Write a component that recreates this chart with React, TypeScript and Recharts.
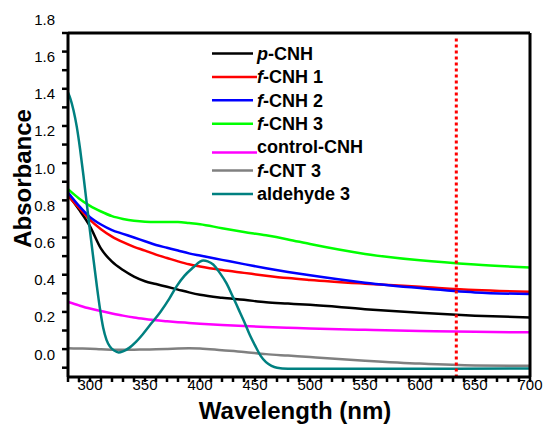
import React from 'react';
import { LineChart, Line, XAxis, YAxis, ReferenceLine, Legend, Label } from 'recharts';

// ---- data ----
const wavelengths = [280, 290, 300, 310, 320, 330, 340, 350, 360, 370, 380, 390, 400, 420, 440, 460, 480, 500, 550, 600, 650, 700];
const pCNH = [0.83, 0.75, 0.66, 0.54, 0.47, 0.425, 0.39, 0.365, 0.35, 0.335, 0.32, 0.305, 0.292, 0.276, 0.265, 0.252, 0.245, 0.238, 0.215, 0.195, 0.18, 0.17];
const fCNH1 = [0.824, 0.76, 0.695, 0.645, 0.605, 0.575, 0.55, 0.53, 0.508, 0.49, 0.472, 0.456, 0.444, 0.425, 0.41, 0.395, 0.382, 0.372, 0.352, 0.335, 0.318, 0.308];
const fCNH2 = [0.842, 0.77, 0.71, 0.67, 0.64, 0.62, 0.6, 0.58, 0.56, 0.545, 0.53, 0.515, 0.503, 0.48, 0.457, 0.435, 0.415, 0.397, 0.357, 0.328, 0.305, 0.296];
const fCNH3 = [0.86, 0.81, 0.77, 0.74, 0.715, 0.7, 0.69, 0.685, 0.684, 0.684, 0.683, 0.678, 0.672, 0.65, 0.63, 0.612, 0.59, 0.565, 0.512, 0.478, 0.455, 0.439];
const controlCNH = [0.254, 0.235, 0.218, 0.205, 0.192, 0.18, 0.17, 0.162, 0.155, 0.15, 0.145, 0.141, 0.137, 0.13, 0.124, 0.119, 0.115, 0.111, 0.104, 0.098, 0.093, 0.09];
const fCNT3 = [0.004, 0.003, 0.002, -0.001, -0.003, -0.004, -0.003, -0.002, -0.001, 0.001, 0.003, 0.004, 0.003, -0.006, -0.015, -0.027, -0.035, -0.043, -0.062, -0.078, -0.088, -0.09];
const aldehydeWavelengths = [280, 282, 285, 288, 291, 294, 297, 300, 303, 306, 309, 312, 315, 318, 322, 326, 330, 336, 342, 348, 356, 364, 372, 379, 386, 394, 400, 403, 407, 412, 418, 424, 430, 435, 440, 445, 450, 455, 460, 465, 470, 480, 500, 600, 700];
const aldehyde3 = [1.38, 1.35, 1.285, 1.195, 1.075, 0.935, 0.785, 0.635, 0.49, 0.35, 0.22, 0.115, 0.05, 0.015, -0.008, -0.018, -0.012, 0.008, 0.04, 0.08, 0.14, 0.2, 0.27, 0.34, 0.395, 0.44, 0.47, 0.476, 0.472, 0.455, 0.41, 0.355, 0.28, 0.215, 0.15, 0.08, 0.02, -0.035, -0.07, -0.09, -0.1, -0.105, -0.106, -0.106, -0.104];

const seriesNames = ['p-CNH', 'f-CNH 1', 'f-CNH 2', 'f-CNH 3', 'control-CNH', 'f-CNT 3', 'aldehyde 3'];
const italicPrefixes = ['p', 'f', 'f', 'f', '', 'f', ''];
const seriesColors = ['#000000', '#ff0000', '#0000ff', '#00ff00', '#ff00ff', '#808080', '#008080'];

const laserLine = 633;

const xLabelTicks = [300, 350, 400, 450, 500, 550, 600, 650, 700];
const xAllTicks = Array.from({ length: 43 }, (_, i) => 280 + i * 10);
const yLabelTicks = ['0.0', '0.2', '0.4', '0.6', '0.8', '1.0', '1.2', '1.4', '1.6', '1.8'];
const yAllTicks = Array.from({ length: 20 }, (_, i) => (i - 1) / 10);

const toPoints = (xs: number[], ys: number[]) => xs.map((x, i) => ({ x, y: ys[i] }));
const seriesData = [
  toPoints(wavelengths, pCNH),
  toPoints(wavelengths, fCNH1),
  toPoints(wavelengths, fCNH2),
  toPoints(wavelengths, fCNH3),
  toPoints(wavelengths, controlCNH),
  toPoints(wavelengths, fCNT3),
  toPoints(aldehydeWavelengths, aldehyde3),
];

const FONT = '"Liberation Sans", Arial, sans-serif';

const YTick = (props: any) => {
  const { x, y, payload } = props;
  const v = payload.value as number;
  const label = v.toFixed(1);
  const hasLabel = yLabelTicks.includes(label);
  return (
    <g>
      {v <= 1.7001 && <line x1={x - 6} x2={x} y1={y} y2={y} stroke="#000" strokeWidth={2.5} />}
      {hasLabel && (
        <text x={x - 13} y={y + 10.5} textAnchor="end" fontSize={15} fontFamily={FONT} fill="#000">
          {label}
        </text>
      )}
    </g>
  );
};

const XTick = (props: any) => {
  const { x, y, payload } = props;
  const v = payload.value as number;
  const hasLabel = xLabelTicks.includes(v);
  return (
    <g>
      <line x1={x} x2={x} y1={y} y2={y + 5} stroke="#000" strokeWidth={2.5} />
      {hasLabel && (
        <text x={x} y={y + 13} textAnchor="middle" fontSize={15} fontFamily={FONT} fill="#000">
          {v}
        </text>
      )}
    </g>
  );
};

const XTitle = () => (
  <text x={295} y={419} textAnchor="middle" fontSize={24} fontWeight="bold" fontFamily={FONT} fill="#000">
    Wavelength (nm)
  </text>
);

const YTitle = () => (
  <text x={31} y={178.5} transform="rotate(-90, 31, 178.5)" textAnchor="middle" fontSize={24} fontWeight="bold" fontFamily={FONT} fill="#000">
    Absorbance
  </text>
);

const renderLegend = (props: any) => {
  const payload = props.payload || [];
  const colorOf = (name: string) => {
    const e = payload.find((p: any) => p.value === name);
    return e ? e.color : '#000';
  };
  return (
    <svg width={545} height={431} style={{ position: 'absolute', left: 0, top: 0 }}>
      {seriesNames.map((name, idx) => {
        const rowY = 53.5 + idx * 23.4;
        const prefix = italicPrefixes[idx] || '';
        const rest = name.slice(prefix.length);
        const longLine = idx === 1 || idx === 4;
        const lineY = idx === 4 ? rowY + 5.5 : rowY;
        return (
          <g key={name}>
            <line x1={212} x2={longLine ? 257 : 253} y1={lineY} y2={lineY} stroke={colorOf(name)} strokeWidth={2.5} />
            <text x={257} y={rowY + 6.3} fontSize={18} fontWeight="bold" fontFamily={FONT} fill="#000">
              {prefix && <tspan fontStyle="italic">{prefix}</tspan>}
              <tspan>{rest}</tspan>
            </text>
          </g>
        );
      })}
    </svg>
  );
};

export default function App() {
  return (
    <div style={{ position: 'absolute', left: 0, top: 0, width: 545, height: 431, background: '#fff' }}>
      <LineChart width={545} height={431} margin={{ top: 33, right: 15, bottom: 0, left: 0 }}>
        <XAxis
          dataKey="x"
          type="number"
          domain={[280, 700]}
          ticks={xAllTicks}
          interval={0}
          allowDataOverflow
          height={54}
          tickLine={false}
          tickSize={0}
          tickMargin={0}
          tick={<XTick />}
          axisLine={{ stroke: '#000', strokeWidth: 3 }}
        >
          <Label content={<XTitle />} />
        </XAxis>
        <YAxis
          type="number"
          domain={[-0.15, 1.7]}
          ticks={yAllTicks}
          interval={0}
          allowDataOverflow
          width={68}
          tickLine={false}
          tickSize={0}
          tickMargin={0}
          tick={<YTick />}
          axisLine={{ stroke: '#000', strokeWidth: 3 }}
        >
          <Label content={<YTitle />} />
        </YAxis>
        <Legend
          content={renderLegend}
          layout="vertical"
          align="center"
          verticalAlign="middle"
          wrapperStyle={{ left: 0, top: 0, width: 545, height: 431 }}
        />
        {seriesData.map((d, i) => (
          <Line
            key={seriesNames[i]}
            data={d}
            dataKey="y"
            name={seriesNames[i]}
            type="monotone"
            stroke={seriesColors[i]}
            strokeWidth={2.5}
            dot={false}
            activeDot={false}
            isAnimationActive={false}
          />
        ))}
        <ReferenceLine y={1.7} stroke="#000" strokeWidth={3} />
        <ReferenceLine x={700} stroke="#000" strokeWidth={3} />
        <ReferenceLine
          segment={[{ x: laserLine, y: 1.67 }, { x: laserLine, y: -0.15 }]}
          stroke="#ff0000"
          strokeWidth={3}
          strokeDasharray="3 3"
        />
      </LineChart>
    </div>
  );
}
